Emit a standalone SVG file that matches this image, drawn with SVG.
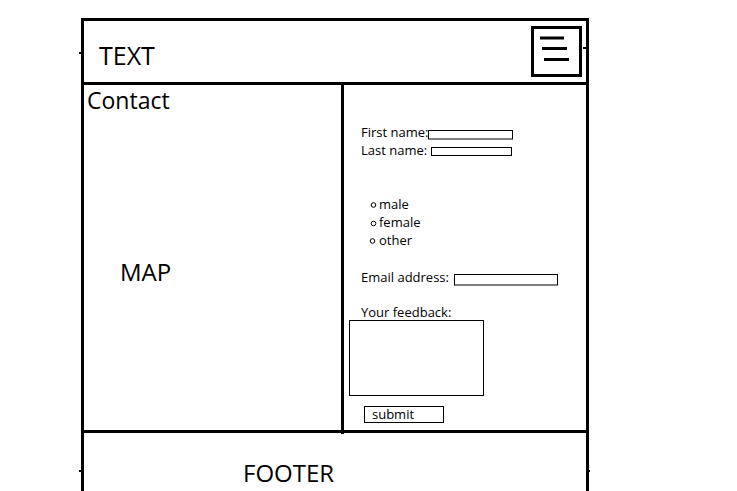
<svg xmlns="http://www.w3.org/2000/svg" width="737" height="491" viewBox="0 0 737 491">
<style>
.frame{stroke:#000;stroke-width:3;fill:none}
.thin{stroke:#000;stroke-width:1;fill:#fff}
.big{font-family:"Open Sans","Liberation Sans",sans-serif;fill:#000}
.form{font-family:"Open Sans","Liberation Sans",sans-serif;font-size:13px;fill:#000}
</style>
<rect width="737" height="491" fill="#fff"/>
<g id="frame">
<line class="frame" x1="82.5" y1="18" x2="82.5" y2="491"/>
<line class="frame" x1="587.5" y1="18" x2="587.5" y2="491"/>
<line class="frame" x1="81" y1="19.5" x2="589" y2="19.5"/>
<line class="frame" x1="81" y1="83.5" x2="589" y2="83.5"/>
<line class="frame" x1="81" y1="431.5" x2="589" y2="431.5"/>
<line class="frame" x1="342.5" y1="83" x2="342.5" y2="434"/>
<line stroke="#000" stroke-width="2" x1="79" y1="53" x2="82" y2="53"/>
<line stroke="#000" stroke-width="2" x1="79" y1="471" x2="82" y2="471"/>
<line stroke="#000" stroke-width="2" x1="588" y1="471" x2="590" y2="471"/>
<line stroke="#000" stroke-width="2" x1="583" y1="48" x2="586" y2="48"/>
</g>
<g id="header">
<text class="big" x="99" y="65" font-size="25">TEXT</text>
</g>
<g id="menu">
<rect class="frame" x="532.5" y="27.5" width="48" height="48"/>
<line stroke="#000" stroke-width="3" x1="540" y1="38" x2="564" y2="38"/>
<line stroke="#000" stroke-width="3" x1="542" y1="48.5" x2="567" y2="48.5"/>
<line stroke="#000" stroke-width="3" x1="544" y1="59.5" x2="569" y2="59.5"/>
</g>
<g id="contact">
<text class="big" x="87" y="109" font-size="23">Contact</text>
<text class="big" x="120" y="281" font-size="24">MAP</text>
</g>
<g id="form">
<text class="form" x="361" y="137">First name:</text>
<rect class="thin" x="428.5" y="130.5" width="84" height="8.5"/>
<text class="form" x="361" y="155">Last name:</text>
<rect class="thin" x="431.5" y="147.5" width="80" height="8"/>
<circle class="thin" cx="373.5" cy="205" r="2.3"/>
<text class="form" x="379" y="209">male</text>
<circle class="thin" cx="373.5" cy="223.5" r="2.3"/>
<text class="form" x="379" y="227">female</text>
<circle class="thin" cx="372.5" cy="241" r="2.3"/>
<text class="form" x="379" y="245">other</text>
<text class="form" x="361" y="282">Email address:</text>
<rect class="thin" x="454.5" y="274.5" width="103" height="10.5"/>
<text class="form" x="361" y="317">Your feedback:</text>
<rect class="thin" x="349.5" y="320.5" width="134" height="75"/>
<rect class="thin" x="364.5" y="406.5" width="79" height="16"/>
<text class="form" x="372" y="419">submit</text>
</g>
<g id="footer">
<text class="big" x="243" y="482" font-size="24">FOOTER</text>
</g>
<g id="connectors"></g>
</svg>
